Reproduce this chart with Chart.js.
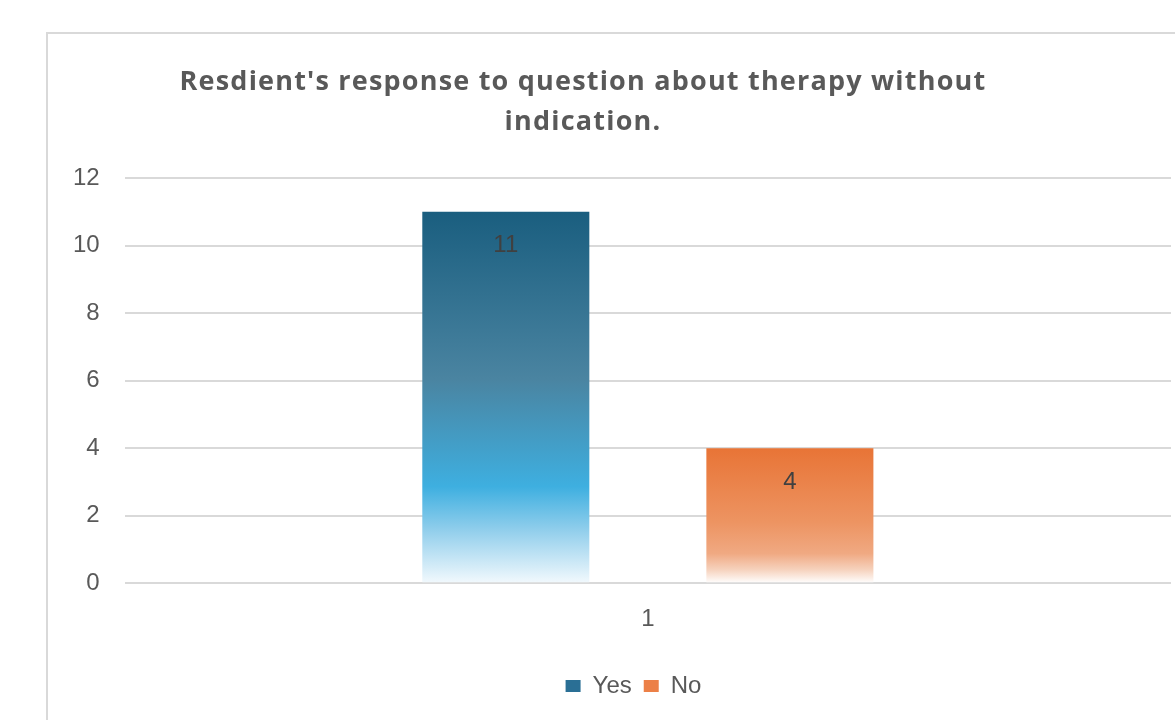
<!DOCTYPE html>
<html>
<head>
<meta charset="utf-8">
<script src="https://cdn.jsdelivr.net/npm/chart.js@4.4.1/dist/chart.umd.min.js"></script>
<style>
  html, body { margin: 0; padding: 0; background: #fff; overflow: hidden; }
  #frame { position: absolute; left: 46px; top: 32px; width: 1200px; height: 760px;
           border: 2px solid #d9d9d9; box-sizing: border-box; }
  #chart { position: absolute; left: 0; top: 0; }
</style>
</head>
<body>
<div id="frame"></div>
<canvas id="chart" width="1175" height="720"></canvas>
<script>
// data
const categories = ['1'];
const seriesNames = ['Yes', 'No'];
const yesValues = [11];
const noValues = [4];
const yMin = 0, yMax = 12, yStep = 2;
const titleLines = ["Resdient's response to question about therapy without", "indication."];

// 그라데이션 (엑셀 느낌): 위는 진하고 아래로 갈수록 흰색
function barGradient(ctx, top, bottom, stops) {
    const g = ctx.createLinearGradient(0, top, 0, bottom);
    stops.forEach(s => g.addColorStop(s[0], s[1]));
    return g;
}
const yesStops = [[0, '#1a5e7f'], [0.45, '#4a84a1'], [0.74, '#3eafe0'], [0.86, '#93cfec'], [1, '#f2f9fd']];
const noStops = [[0, '#e87436'], [0.55, '#ed9462'], [0.78, '#f0a982'], [0.9, '#f6d2bd'], [1, '#ffffff']];

function scriptedFill(stops, fallback) {
    return function (context) {
        const chart = context.chart;
        if (!chart.chartArea || context.raw === undefined) return fallback;
        const y = chart.scales.y;
        return barGradient(chart.ctx, y.getPixelForValue(context.raw), y.getPixelForValue(0), stops);
    };
}

const titlePlugin = {
    id: 'offsetTitle',
    afterDraw(chart) {
        const ctx = chart.ctx;
        ctx.save();
        ctx.font = 'bold 27px "Open Sans"';
        ctx.letterSpacing = '1.2px';
        ctx.fillStyle = '#595959';
        ctx.textAlign = 'center';
        ctx.textBaseline = 'alphabetic';
        ctx.fillText(titleLines[0], 583, 90);
        ctx.fillText(titleLines[1], 583, 130);
        ctx.restore();
    }
};

// 범례를 오른쪽으로 조금 이동 (원본처럼)
const legendShift = {
    id: 'legendShift',
    afterLayout(chart) {
        const lg = chart.legend;
        if (!lg) return;
        lg.left += 24;
        lg.right += 24;
        lg.adjustHitBoxes();
    }
};

const valueLabels = {
    id: 'valueLabels',
    afterDatasetsDraw(chart) {
        const ctx = chart.ctx;
        ctx.save();
        ctx.font = '24px "Liberation Sans"';
        ctx.fillStyle = '#404040';
        ctx.textAlign = 'center';
        ctx.textBaseline = 'middle';
        chart.data.datasets.forEach((ds, i) => {
            chart.getDatasetMeta(i).data.forEach((bar, j) => {
                ctx.fillText(ds.data[j], bar.x, bar.y + 34);
            });
        });
        ctx.restore();
    }
};

Chart.defaults.font.family = '"Liberation Sans", Arial, sans-serif';
Chart.defaults.color = '#595959';

new Chart(document.getElementById('chart').getContext('2d'), {
    type: 'bar',
    data: {
        labels: categories,
        datasets: [
            { label: seriesNames[0], data: yesValues, backgroundColor: scriptedFill(yesStops, '#2a6f95') },
            { label: seriesNames[1], data: noValues, backgroundColor: scriptedFill(noStops, '#ec8047') }
        ]
    },
    options: {
        responsive: false,
        animation: false,
        categoryPercentage: 0.543,
        barPercentage: 0.588,
        layout: { padding: { left: 48, right: 4, top: 178, bottom: 12 } },
        plugins: {
            title: { display: false },
            tooltip: { enabled: false },
            legend: {
                position: 'bottom',
                labels: {
                    font: { size: 24 },
                    color: '#595959',
                    boxWidth: 15,
                    boxHeight: 12,
                    padding: 12,
                    generateLabels: () => [
                        { text: seriesNames[0], fillStyle: '#2a6f95', strokeStyle: '#2a6f95', fontColor: '#595959', lineWidth: 0, datasetIndex: 0 },
                        { text: seriesNames[1], fillStyle: '#ec8047', strokeStyle: '#ec8047', fontColor: '#595959', lineWidth: 0, datasetIndex: 1 }
                    ]
                }
            }
        },
        scales: {
            y: {
                min: yMin, max: yMax,
                ticks: { stepSize: yStep, font: { size: 24 }, color: '#595959', padding: 25 },
                grid: { color: '#d9d9d9', lineWidth: 2, drawTicks: false },
                border: { display: false }
            },
            x: {
                ticks: { font: { size: 24 }, color: '#595959', padding: 22 },
                grid: { display: false, drawTicks: false },
                border: { display: false },
                afterFit(scale) { scale.height += 6; }
            }
        }
    },
    plugins: [titlePlugin, valueLabels, legendShift]
});
</script>
</body>
</html>
